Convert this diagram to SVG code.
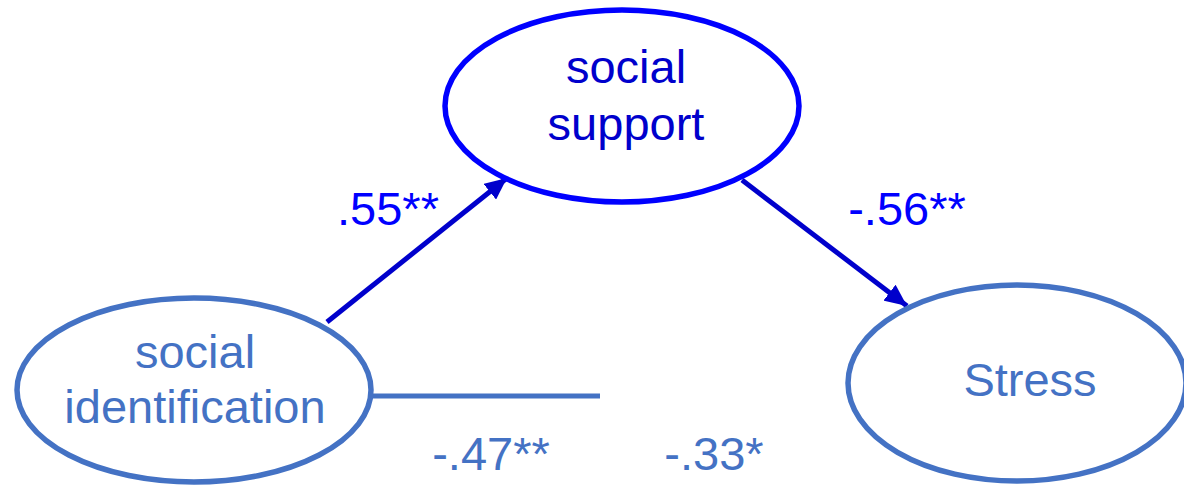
<svg xmlns="http://www.w3.org/2000/svg" width="1184" height="485" viewBox="0 0 1184 485">
<style>
text{font-family:"Liberation Sans",Arial,sans-serif;font-size:47px;text-anchor:middle}
.dark{fill:#0000CC}
.bright{fill:#0000FF}
.light{fill:#4472C4}
.el{fill:#FFFFFF;stroke-width:5.5}
</style>
<defs>
<marker id="ah" markerUnits="userSpaceOnUse" markerWidth="24" markerHeight="20" refX="22" refY="10" orient="auto">
<path d="M0,0 L22,10 L0,20 Z" fill="#0000CC"/>
</marker>
</defs>
<rect width="1184" height="485" fill="#FFFFFF"/>
<g id="connectors">
<line x1="327" y1="322" x2="507" y2="178" stroke="#0000CC" stroke-width="5" marker-end="url(#ah)"/>
<line x1="742" y1="180" x2="907" y2="306" stroke="#0000CC" stroke-width="5" marker-end="url(#ah)"/>
<line x1="372" y1="396" x2="600" y2="396" stroke="#4472C4" stroke-width="5"/>
</g>
<g id="node-social-support">
<ellipse class="el" cx="622" cy="106" rx="177" ry="96" stroke="#0000FF" stroke-width="6"/>
<text class="dark" x="626" y="83">social</text>
<text class="dark" x="626" y="140">support</text>
</g>
<g id="node-social-identification">
<ellipse class="el" cx="194" cy="390" rx="177" ry="92" stroke="#4472C4"/>
<text class="light" x="195" y="368">social</text>
<text class="light" x="195" y="423">identification</text>
</g>
<g id="node-stress">
<ellipse class="el" cx="1017" cy="383" rx="169" ry="98" stroke="#4472C4"/>
<text class="light" x="1030" y="396">Stress</text>
</g>
<g id="labels">
<text class="bright" x="388" y="225">.55**</text>
<text class="bright" x="907" y="225">-.56**</text>
<text class="light" x="491" y="470">-.47**</text>
<text class="light" x="714" y="470">-.33*</text>
</g>
</svg>
